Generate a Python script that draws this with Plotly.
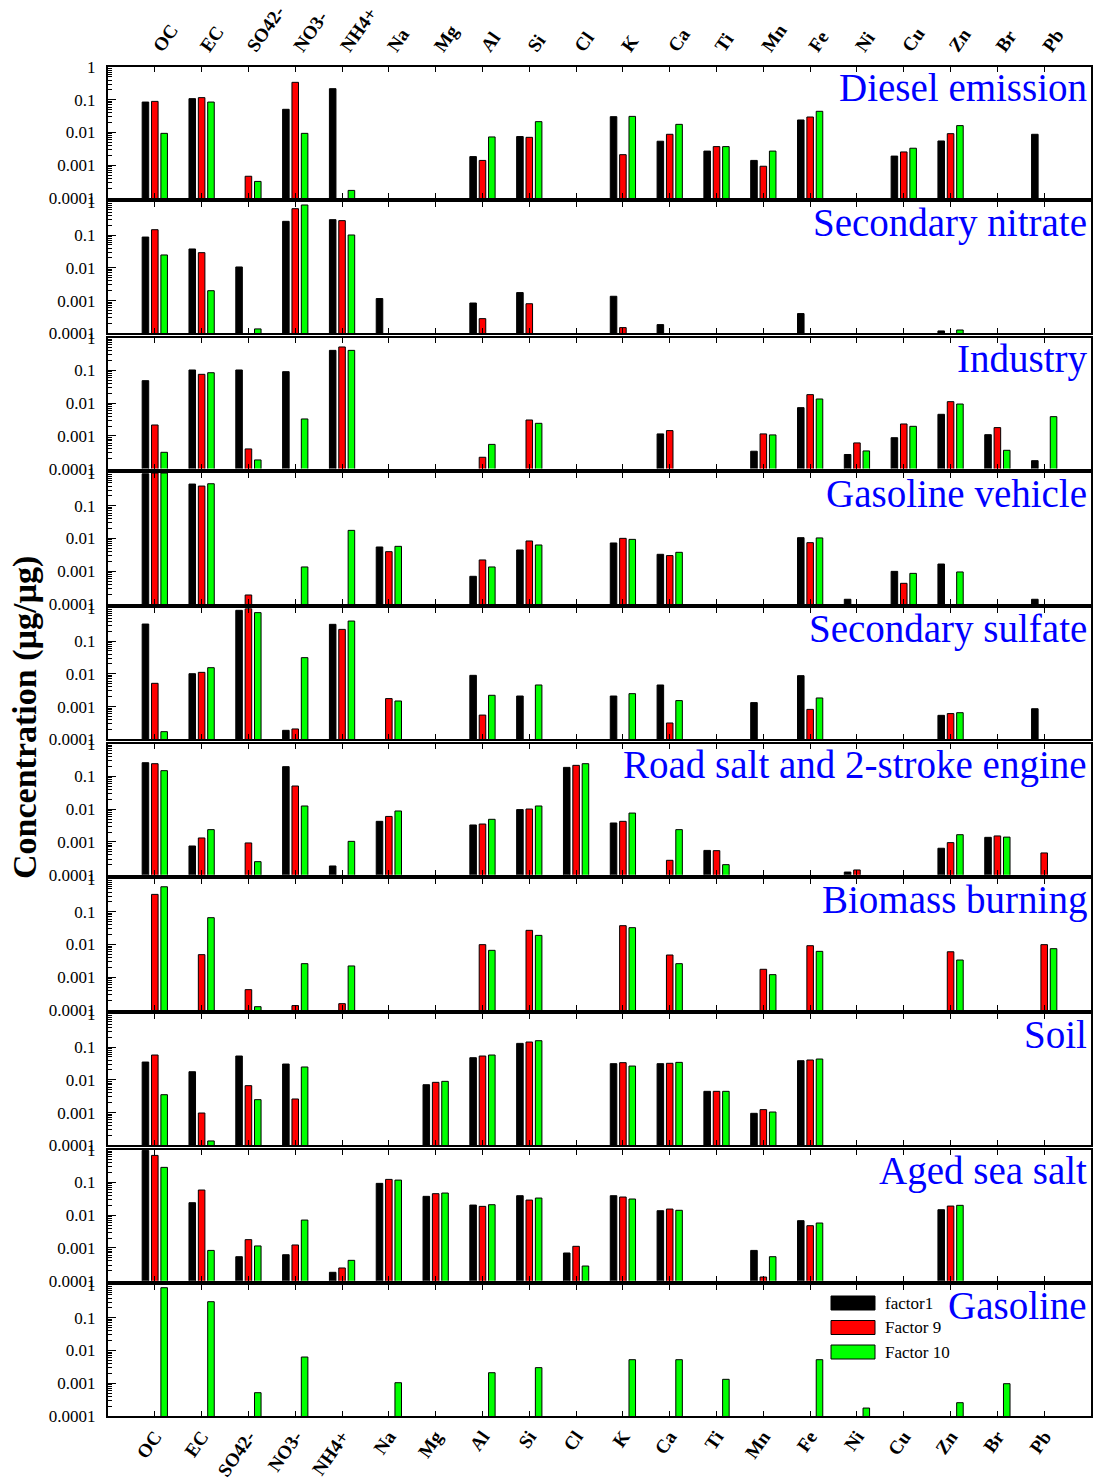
import plotly.graph_objects as go
from plotly.subplots import make_subplots

# Chemical species on the x axis
species = ["OC", "EC", "SO42-", "NO3-", "NH4+", "Na", "Mg", "Al", "Si", "Cl",
           "K", "Ca", "Ti", "Mn", "Fe", "Ni", "Cu", "Zn", "Br", "Pb"]

series_names = ["factor1", "Factor 9", "Factor 10"]
series_colors = ["#000000", "#FF0000", "#00FF00"]

panel_titles = ["Diesel emission", "Secondary nitrate", "Industry", "Gasoline vehicle",
                "Secondary sulfate", "Road salt and 2-stroke engine", "Biomass burning",
                "Soil", "Aged sea salt", "Gasoline"]

N = None

# Source profiles (µg/µg); None = species not in profile
diesel_f1 = [0.085, 0.108, N, 0.051, 0.218, N, N, 0.00183, 0.0075, N,
             0.0304, 0.0054, 0.0027, 0.0014, 0.0241, N, 0.0019, 0.0055, N, 0.0088]
diesel_f9 = [0.089, 0.116, 0.00046, 0.34, N, N, N, 0.0014, 0.0071, N,
             0.0021, 0.0088, 0.0037, 0.00093, 0.0297, N, 0.00254, 0.0092, N, N]
diesel_f10 = [0.0094, 0.085, 0.00032, 0.0094, 0.00017, N, N, 0.0073, 0.0214, N,
              0.031, 0.0177, 0.0037, 0.0027, 0.0443, N, 0.0033, 0.0162, N, N]

nitrate_f1 = [0.087, 0.0376, 0.0106, 0.263, 0.296, 0.00115, N, 0.00084, 0.00175, N,
              0.00135, 0.000184, N, N, 0.0004, N, N, 0.000118, N, N]
nitrate_f9 = [0.146, 0.029, N, 0.64, 0.276, N, N, 0.00028, 0.0008, N,
              0.000149, N, N, N, N, N, N, N, N, N]
nitrate_f10 = [0.0247, 0.002, 0.000136, 0.83, 0.1006, N, N, N, N, N,
               N, N, N, N, N, N, N, 0.000126, N, N]

industry_f1 = [0.0486, 0.103, 0.103, 0.0916, 0.41, N, N, N, N, N,
               N, 0.00115, N, 0.00034, 0.0073, 0.00027, 0.00088, 0.00456, 0.00109, 0.000175]
industry_f9 = [0.00215, 0.076, 0.0004, N, 0.52, N, N, 0.000222, 0.00306, N,
               N, 0.00145, N, 0.00115, 0.0182, 0.00061, 0.00231, 0.0111, 0.00179, N]
industry_f10 = [0.000315, 0.085, 0.000184, 0.00329, 0.41, N, N, 0.00055, 0.00242, N,
                N, N, N, 0.00107, 0.0134, 0.000347, 0.00196, 0.0094, 0.000363, 0.00387]

gasveh_f1 = [0.95, 0.46, N, N, N, 0.0055, N, 0.0007, 0.00446, N,
             0.0073, 0.00329, N, N, 0.0106, 0.000139, 0.00099, 0.00166, N, 0.000139]
gasveh_f9 = [1.0, 0.40, 0.000188, N, N, 0.00396, N, 0.00221, 0.0084, N,
             0.0101, 0.003, N, N, 0.00746, N, 0.000427, N, N, N]
gasveh_f10 = [1.0, 0.47, N, 0.00135, 0.0177, 0.00576, N, 0.00135, 0.00633, N,
              0.0094, 0.00378, N, N, 0.0104, N, 0.00086, 0.00095, N, N]

sulfate_f1 = [0.332, 0.0101, 0.87, 0.000188, 0.325, N, N, 0.009, 0.0021, N,
              0.0021, 0.00456, N, 0.00132, 0.0088, N, N, 0.00054, N, 0.00086]
sulfate_f9 = [0.00513, 0.0111, 0.98, 0.000207, 0.228, 0.00175, N, 0.00055, N, N,
              N, 0.000315, N, N, 0.00082, N, N, 0.00061, N, N]
sulfate_f10 = [0.000171, 0.0154, 0.74, 0.0312, 0.41, 0.00148, N, 0.00221, 0.00456, N,
               0.00248, 0.00152, N, N, 0.00183, N, N, 0.00065, N, N]

roadsalt_f1 = [0.263, 0.00075, N, 0.199, 0.000184, 0.00425, N, 0.00329, 0.0097, 0.189,
               0.00378, N, 0.00055, N, N, 0.00012, N, 0.00064, 0.00138, N]
roadsalt_f9 = [0.245, 0.00132, 0.00093, 0.051, N, 0.006, N, 0.00352, 0.0101, 0.218,
               0.00425, 0.000274, 0.00054, N, N, 0.000139, N, 0.00095, 0.00152, 0.00046]
roadsalt_f10 = [0.15, 0.00237, 0.000249, 0.0125, 0.00104, 0.0088, N, 0.0049, 0.0125, 0.245,
                0.0076, 0.00237, 0.000202, N, N, N, N, 0.00166, 0.0014, N]

biomass_f1 = [N] * 20
biomass_f9 = [0.34, 0.0049, 0.000418, 0.000136, 0.000156, N, N, 0.0099, 0.0271, N,
              0.0376, 0.00478, N, 0.00175, 0.0092, N, N, 0.006, N, 0.0099]
biomass_f10 = [0.58, 0.066, 0.000126, 0.0026, 0.00221, N, N, 0.00664, 0.019, N,
               0.0327, 0.0026, N, 0.0012, 0.00618, N, N, 0.00336, N, 0.00746]

soil_f1 = [0.035, 0.0177, 0.0534, 0.0304, N, N, 0.0071, 0.0475, 0.13, N,
           0.0312, 0.0312, 0.00446, 0.00095, 0.0385, N, N, N, N, N]
soil_f9 = [0.0573, 0.00097, 0.00664, 0.0026, N, N, 0.0084, 0.0534, 0.143, N,
           0.0335, 0.032, 0.00446, 0.00123, 0.0404, N, N, N, N, N]
soil_f10 = [0.00352, 0.000136, 0.00248, 0.0247, N, N, 0.009, 0.0573, 0.157, N,
            0.0264, 0.0342, 0.00446, 0.00104, 0.0433, N, N, N, N, N]

seasalt_f1 = [0.95, 0.0241, 0.00054, 0.00062, 0.00018, 0.0938, 0.0376, 0.0204, 0.0394, 0.0007,
              0.0394, 0.0137, N, 0.00084, 0.0068, N, N, 0.0147, N, N]
seasalt_f9 = [0.67, 0.0587, 0.00179, 0.00123, 0.000244, 0.124, 0.0454, 0.0186, 0.029, 0.00112,
              0.0359, 0.0154, N, 0.000129, 0.00478, N, N, 0.019, N, N]
seasalt_f10 = [0.289, 0.00084, 0.00115, 0.0071, 0.000418, 0.118, 0.0475, 0.0209, 0.0334, 0.00028,
               0.0312, 0.0141, N, 0.00054, 0.00576, N, N, 0.02, N, N]

gasoline_f1 = [N] * 20
gasoline_f9 = [N] * 20
gasoline_f10 = [0.83, 0.31, 0.000515, 0.00633, N, 0.00104, N, 0.0021, 0.003, N,
                0.00525, 0.00525, 0.00132, N, 0.00525, 0.000175, N, 0.000255, 0.00097, N]

panel_series = [
    (diesel_f1, diesel_f9, diesel_f10),
    (nitrate_f1, nitrate_f9, nitrate_f10),
    (industry_f1, industry_f9, industry_f10),
    (gasveh_f1, gasveh_f9, gasveh_f10),
    (sulfate_f1, sulfate_f9, sulfate_f10),
    (roadsalt_f1, roadsalt_f9, roadsalt_f10),
    (biomass_f1, biomass_f9, biomass_f10),
    (soil_f1, soil_f9, soil_f10),
    (seasalt_f1, seasalt_f9, seasalt_f10),
    (gasoline_f1, gasoline_f9, gasoline_f10),
]

y_tickvals = [1e-4, 1e-3, 1e-2, 1e-1, 1]
y_ticktext = ["0.0001", "0.001", "0.01", "0.1", "1"]
y_minor = [k * 10 ** e for e in range(-4, 0) for k in range(2, 10)]

W, H = 1094, 1482
ML, MR, MT, MB = 108, 3, 67, 66
PW, PH = W - ML - MR, H - MT - MB
SERIF = "Liberation Serif, Times New Roman, serif"

nrows = len(panel_series)
fig = make_subplots(rows=nrows, cols=1, vertical_spacing=0.00326)

for r, series in enumerate(panel_series, start=1):
    for name, color, vals in zip(series_names, series_colors, series):
        fig.add_trace(
            go.Bar(
                x=species, y=vals, name=name,
                marker=dict(color=color, line=dict(color="black", width=1)),
                showlegend=False,
            ),
            row=r, col=1,
        )
    fig.update_xaxes(
        type="category", range=[-1, 20], automargin=False,
        showline=True, linecolor="black", linewidth=2, mirror="allticks",
        ticks="inside", ticklen=5, tickcolor="black", tickwidth=1,
        showgrid=False, zeroline=False,
        showticklabels=(r == 1 or r == nrows),
        side="top" if r == 1 else "bottom",
        tickangle=-55,
        tickfont=dict(family=SERIF, size=19, color="black", weight="bold"),
        row=r, col=1,
    )
    fig.update_yaxes(
        type="log", range=[-4, 0], automargin=False,
        tickmode="array", tickvals=y_tickvals, ticktext=y_ticktext,
        ticks="inside", ticklen=8, tickcolor="black", tickwidth=1,
        minor=dict(tickmode="array", tickvals=y_minor, ticks="inside",
                   ticklen=4, tickcolor="black", tickwidth=1, showgrid=False),
        showline=True, linecolor="black", linewidth=2, mirror=True,
        showgrid=False, zeroline=False,
        ticklabelstandoff=7,
        tickfont=dict(family=SERIF, size=17, color="black"),
        row=r, col=1,
    )
    # source name in the upper-right corner of each panel
    yref = "y domain" if r == 1 else f"y{r} domain"
    fig.add_annotation(
        text=panel_titles[r - 1], xref="paper", yref=yref,
        x=1, y=1, xanchor="right", yanchor="top", xshift=-2, yshift=3,
        showarrow=False,
        font=dict(family=SERIF, size=39, color="#0000FF"),
    )

# y-axis title
fig.add_annotation(
    text="Concentration (µg/µg)", xref="paper", yref="paper",
    x=(25 - ML) / PW, y=1 - (718 - MT) / PH, textangle=-90,
    xanchor="center", yanchor="middle", showarrow=False,
    font=dict(family=SERIF, size=34, color="black", weight="bold"),
)

# legend drawn in the last panel
def px_x(p):
    return (p - ML) / PW

def px_y(p):
    return 1 - (p - MT) / PH

for i, (name, color) in enumerate(zip(series_names, series_colors)):
    cy = 1303 + i * 24.5
    fig.add_shape(
        type="rect", xref="paper", yref="paper",
        x0=px_x(831), x1=px_x(875), y0=px_y(cy + 7), y1=px_y(cy - 7),
        fillcolor=color, line=dict(color="black", width=1),
    )
    fig.add_annotation(
        text=name, xref="paper", yref="paper",
        x=px_x(883), y=px_y(cy), xanchor="left", yanchor="middle",
        showarrow=False, font=dict(family=SERIF, size=17, color="black"),
    )

fig.update_layout(
    width=W, height=H,
    margin=dict(l=ML, r=MR, t=MT, b=MB, autoexpand=False),
    barmode="group", bargap=0.4, bargroupgap=0.3,
    paper_bgcolor="white", plot_bgcolor="white",
    showlegend=False,
)

fig.write_html("out.html")
